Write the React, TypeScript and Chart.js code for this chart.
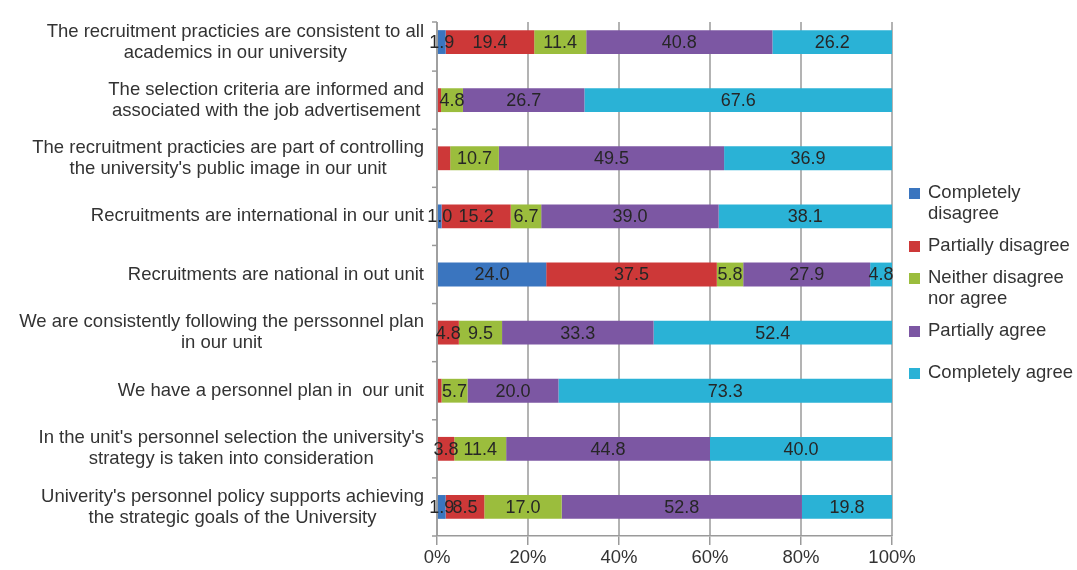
import React, { useEffect, useRef } from "react";
import { Chart, registerables } from "chart.js";

Chart.register(...registerables);

const categories: string[][] = [
  ["The recruitment practicies are consistent to all", "academics in our university"],
  ["The selection criteria are informed and", "associated with the job advertisement"],
  ["The recruitment practicies are part of controlling", "the university's public image in our unit"],
  ["Recruitments are international in our unit"],
  ["Recruitments are national in out unit"],
  ["We are consistently following the perssonnel plan", "in our unit"],
  ["We have a personnel plan in  our unit"],
  ["In the unit's personnel selection the university's", "strategy is taken into consideration"],
  ["Univerity's personnel policy supports achieving", "the strategic goals of the University"],
];

const seriesNames = [
  "Completely disagree",
  "Partially disagree",
  "Neither disagree nor agree",
  "Partially agree",
  "Completely agree",
];
const legendLines: string[][] = [
  ["Completely", "disagree"],
  ["Partially disagree"],
  ["Neither disagree", "nor agree"],
  ["Partially agree"],
  ["Completely agree"],
];

const completelyDisagree = [1.9, 0, 0, 1.0, 24.0, 0, 0, 0, 1.9];
const partiallyDisagree = [19.4, 0.9, 2.9, 15.2, 37.5, 4.8, 1.0, 3.8, 8.5];
const neitherDisagreeNorAgree = [11.4, 4.8, 10.7, 6.7, 5.8, 9.5, 5.7, 11.4, 17.0];
const partiallyAgree = [40.8, 26.7, 49.5, 39.0, 27.9, 33.3, 20.0, 44.8, 52.8];
const completelyAgree = [26.2, 67.6, 36.9, 38.1, 4.8, 52.4, 73.3, 40.0, 19.8];

// [series index, category index] of segments that carry no value label in the original
const unlabelled: [number, number][] = [
  [1, 1],
  [1, 2],
  [1, 6],
];

const xTicks = [0, 20, 40, 60, 80, 100];

const colors = ["#3a75bf", "#cd3838", "#9bbd3d", "#7c57a3", "#2ab2d6"];

const seriesValues = [
  completelyDisagree,
  partiallyDisagree,
  neitherDisagreeNorAgree,
  partiallyAgree,
  completelyAgree,
];

const FONT = '"Liberation Sans", Arial, Helvetica, sans-serif';

export default function App() {
  const ref = useRef<HTMLCanvasElement | null>(null);

  useEffect(() => {
    if (!ref.current) return;
    const rowSums = categories.map((_, j) =>
      seriesValues.reduce((s, arr) => s + arr[j], 0)
    );

    const gridPlugin = {
      id: "customGrid",
      beforeDatasetsDraw(chart: any) {
        const ctx = chart.ctx;
        const xs = chart.scales.x;
        const area = chart.chartArea;
        const top = area.top + 9;
        ctx.save();
        ctx.strokeStyle = "#9a9a9a";
        ctx.lineWidth = 1.5;
        for (const v of xTicks) {
          const x = xs.getPixelForValue(v);
          ctx.beginPath();
          ctx.moveTo(x, top);
          ctx.lineTo(x, area.bottom);
          ctx.stroke();
        }
        // y tick marks
        const n = categories.length;
        const band = (area.bottom - area.top) / n;
        const marks = [top];
        for (let k = 1; k <= n; k++) marks.push(area.top + band * k);
        for (const y of marks) {
          ctx.beginPath();
          ctx.moveTo(area.left - 5, y);
          ctx.lineTo(area.left, y);
          ctx.stroke();
        }
        ctx.restore();
      },
      afterDatasetsDraw(chart: any) {
        const ctx = chart.ctx;
        const area = chart.chartArea;
        ctx.save();
        // y axis line
        ctx.strokeStyle = "#9a9a9a";
        ctx.lineWidth = 1.5;
        ctx.beginPath();
        ctx.moveTo(area.left, area.top + 9);
        ctx.lineTo(area.left, area.bottom);
        ctx.stroke();
        // value labels
        ctx.font = `18px ${FONT}`;
        ctx.fillStyle = "#262626";
        ctx.textAlign = "center";
        ctx.textBaseline = "middle";
        chart.data.datasets.forEach((ds: any, i: number) => {
          const meta = chart.getDatasetMeta(i);
          meta.data.forEach((el: any, j: number) => {
            const raw = seriesValues[i][j];
            if (!raw) return;
            if (unlabelled.some(([a, b]) => a === i && b === j)) return;
            const p = el.getCenterPoint();
            ctx.fillText(raw.toFixed(1), p.x, p.y + 1);
          });
        });
        ctx.restore();
      },
      afterDraw(chart: any) {
        const ctx = chart.ctx;
        const ys = chart.scales.y;
        const area = chart.chartArea;
        ctx.save();
        // category labels
        ctx.font = `18.5px ${FONT}`;
        ctx.fillStyle = "#333333";
        ctx.textAlign = "center";
        ctx.textBaseline = "middle";
        const right = area.left - 13;
        const lh = 21;
        categories.forEach((lines, i) => {
          const y = ys.getPixelForValue(i);
          const maxW = Math.max(...lines.map((l) => ctx.measureText(l).width));
          const cx = right - maxW / 2;
          lines.forEach((l, k) => {
            ctx.fillText(l, cx, y + (k - (lines.length - 1) / 2) * lh);
          });
        });
        // legend
        const legendY = [193, 246, 278, 331, 373];
        ctx.textAlign = "left";
        legendLines.forEach((lines, i) => {
          const y0 = legendY[i];
          ctx.fillStyle = colors[i];
          ctx.fillRect(909, y0 - 5, 11, 11);
          ctx.fillStyle = "#333333";
          lines.forEach((l, k) => ctx.fillText(l, 928, y0 + k * 21));
        });
        ctx.restore();
      },
    };

    const chart = new Chart(ref.current, {
      type: "bar",
      data: {
        labels: categories.map((c) => c.join(" ")),
        datasets: seriesValues.map((arr, i) => ({
          label: seriesNames[i],
          data: arr.map((v, j) => (v / rowSums[j]) * 100),
          backgroundColor: colors[i],
          borderWidth: 0,
          barPercentage: 0.82,
          categoryPercentage: 0.5,
        })),
      },
      options: {
        indexAxis: "y",
        animation: false,
        responsive: true,
        maintainAspectRatio: false,
        layout: { padding: { top: 13, right: 185, left: 0, bottom: 0 } },
        plugins: {
          legend: { display: false },
          tooltip: { enabled: false },
        },
        scales: {
          x: {
            stacked: true,
            min: 0,
            max: 100,
            ticks: {
              stepSize: 20,
              callback: (v: any) => `${v}%`,
              font: { family: FONT, size: 18.5 },
              color: "#333333",
              padding: 2,
            },
            grid: {
              drawOnChartArea: false,
              drawTicks: true,
              tickLength: 9,
              color: "#9a9a9a",
              lineWidth: 1.5,
            },
            border: { display: true, color: "#9a9a9a", width: 1.5 },
            afterFit: (s: any) => {
              s.height = 34;
            },
          },
          y: {
            stacked: true,
            ticks: { display: false },
            grid: { display: false },
            border: { display: false },
            afterFit: (s: any) => {
              s.width = 437;
            },
          },
        },
      },
      plugins: [gridPlugin],
    } as any);

    return () => chart.destroy();
  }, []);

  return (
    <div style={{ position: "absolute", left: 0, top: 0, width: 1077, height: 570 }}>
      <canvas ref={ref} />
    </div>
  );
}
